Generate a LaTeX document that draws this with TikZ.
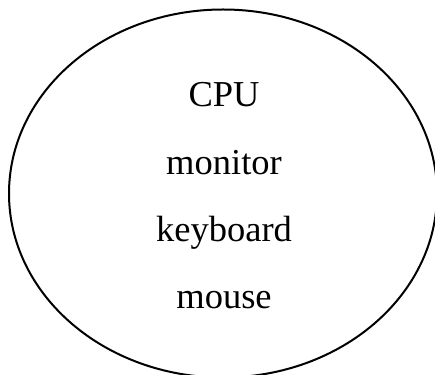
\documentclass[tikz,border=0pt]{standalone}
\usepackage{fontspec}
\setmainfont{Liberation Serif}
\begin{document}
\begin{tikzpicture}[x=1pt,y=1pt,
  lbl/.style={anchor=base,inner sep=0pt,font=\fontsize{36.5}{40}\selectfont}]
\useasboundingbox (0,0) rectangle (435,374);
\clip (0,0) rectangle (435,374);
\draw[line width=2pt] (223,180.5) ellipse [x radius=214, y radius=184];
\node[lbl] (cpu) at (224,267) {CPU};
\node[lbl] (monitor) at (224,199) {monitor};
\node[lbl] (keyboard) at (224,132) {keyboard};
\node[lbl] (mouse) at (224,66) {mouse};
\end{tikzpicture}
\end{document}
